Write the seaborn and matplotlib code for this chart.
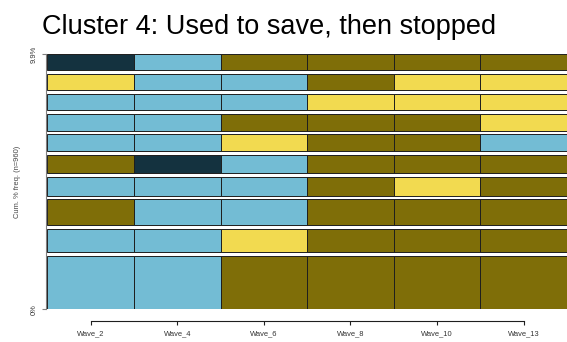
import numpy as np
import pandas as pd
import matplotlib
matplotlib.use("Agg")
import matplotlib.pyplot as plt
import seaborn as sns

# ---- data ----
waves = ["Wave_2", "Wave_4", "Wave_6", "Wave_8", "Wave_10", "Wave_13"]
state_names = ["S1", "S2", "S3", "S4"]
state_colors = ["#14323f", "#73bcd4", "#7f6e08", "#f2da50"]

# ten most frequent sequences, listed from bottom (most frequent) to top
sequences = [
    ["S2", "S2", "S3", "S3", "S3", "S3"],
    ["S2", "S2", "S4", "S3", "S3", "S3"],
    ["S3", "S2", "S2", "S3", "S3", "S3"],
    ["S2", "S2", "S2", "S3", "S4", "S3"],
    ["S3", "S1", "S2", "S3", "S3", "S3"],
    ["S2", "S2", "S4", "S3", "S3", "S2"],
    ["S2", "S2", "S3", "S3", "S3", "S4"],
    ["S2", "S2", "S2", "S4", "S4", "S4"],
    ["S4", "S2", "S2", "S3", "S4", "S4"],
    ["S1", "S2", "S3", "S3", "S3", "S3"],
]
seq_freq = [23, 10, 11, 8, 8, 7, 7, 7, 7, 7]
n_total = 960

title = "Cluster 4: Used to save, then stopped"
ylabel = "Cum. % freq. (n=960)"

# ---- style ----
sns.set_theme(style="white")
plt.rcParams["font.family"] = ["Liberation Sans", "DejaVu Sans"]

W, H, DPI = 567, 342, 100
fig = plt.figure(figsize=(W / DPI, H / DPI), dpi=DPI)
fig.patch.set_facecolor("white")

left_px, right_px, top_px, bot_px = 47.3, 567.0, 54.0, 309.3
ax = fig.add_axes([left_px / W, (H - bot_px) / H,
                   (right_px - left_px) / W, (bot_px - top_px) / H])

palette = dict(zip(state_names, state_colors))
gap = 1.66  # space between bars, in frequency units

# build long table
rows = []
y0 = 0.0
for i, (seq, f) in enumerate(zip(sequences, seq_freq)):
    for j, st in enumerate(seq):
        rows.append(dict(seq=i, wave=j, state=st, bottom=y0, height=f))
    y0 += f + (gap if i < len(sequences) - 1 else 0)
span = y0
df = pd.DataFrame(rows)

for _, r in df.iterrows():
    ax.barh(r["bottom"] + r["height"] / 2, 1.0, left=r["wave"], height=r["height"],
            color=palette[r["state"]], edgecolor="#1e1e1e", linewidth=0.7)

ax.set_xlim(0, 6)
ax.set_ylim(0, span)

for s in ["top", "right"]:
    ax.spines[s].set_visible(False)

ax.spines["left"].set_position(("outward", 0.95))
ax.spines["left"].set_bounds(0, span)
ax.spines["left"].set_color("#808080")
ax.spines["left"].set_linewidth(0.8)

ax.spines["bottom"].set_position(("outward", 8.2))
ax.spines["bottom"].set_bounds(0.5, 5.5)
ax.spines["bottom"].set_color("#1e1e1e")
ax.spines["bottom"].set_linewidth(0.8)

ax.set_xticks(np.arange(len(waves)) + 0.5)
ax.set_xticklabels(waves, fontsize=5.4, color="#333333")
ax.set_yticks([0, span])
pct_top = sum(seq_freq) / n_total * 100
ax.set_yticklabels(["0%", f"{pct_top:.1f}%"], fontsize=5.4, color="#333333",
                   rotation=90, va="center")

ax.tick_params(axis="x", which="major", direction="out", length=2.9, width=0.8,
               color="#1e1e1e", pad=4.0, bottom=True)
ax.tick_params(axis="y", which="major", direction="out", length=2.9, width=0.8,
               color="#808080", pad=3.2, left=True)

ax.set_ylabel(ylabel, fontsize=5.4, color="#444444")
ax.yaxis.set_label_coords(-0.0506, 0.5)

fig.text(269 / W, 1 - 34.3 / H, title, ha="center", va="baseline",
         fontsize=19.5, color="black")

fig.savefig("out.png", dpi=DPI, facecolor="white")
